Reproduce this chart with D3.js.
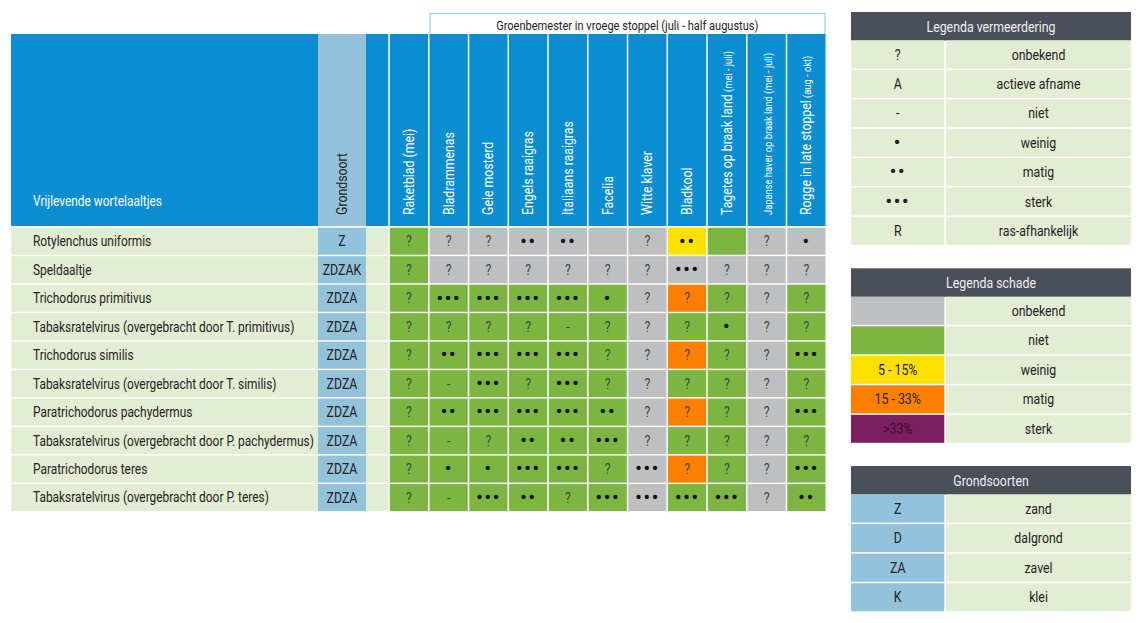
<!DOCTYPE html>
<html><head><meta charset="utf-8">
<script src="https://cdn.jsdelivr.net/npm/d3@7"></script>
<style>
body{margin:0;background:#fff;}
svg text{font-family:"Roboto","Liberation Sans",sans-serif;}
</style></head>
<body><svg id="c" width="1140" height="623"></svg>
<script>
// ---- data ----
const columns = ["Raketblad (mei)","Bladrammenas","Gele mosterd","Engels raaigras","Italiaans raaigras","Facelia","Witte klaver","Bladkool","Tagetes op braak land|(mei - juli)","|Japanse haver op braak land (mei - juli)","Rogge in late stoppel|(aug - okt)"];
const rows = ["Rotylenchus uniformis","Speldaaltje","Trichodorus primitivus","Tabaksratelvirus (overgebracht door T. primitivus)","Trichodorus similis","Tabaksratelvirus (overgebracht door T. similis)","Paratrichodorus pachydermus","Tabaksratelvirus (overgebracht door P. pachydermus)","Paratrichodorus teres","Tabaksratelvirus (overgebracht door P. teres)"];
const soils = ["Z","ZDZAK","ZDZA","ZDZA","ZDZA","ZDZA","ZDZA","ZDZA","ZDZA","ZDZA"];
// multiplication symbols per row
const symbols = [
 ["?","?","?","••","••","","?","••","","?","•"],
 ["?","?","?","?","?","?","?","•••","?","?","?"],
 ["?","•••","•••","•••","•••","•","?","?","?","?","?"],
 ["?","?","?","?","-","?","?","?","•","?","?"],
 ["?","••","•••","•••","•••","?","?","?","?","?","•••"],
 ["?","-","•••","?","•••","?","?","?","?","?","?"],
 ["?","••","•••","•••","•••","••","?","?","?","?","•••"],
 ["?","-","?","••","••","•••","?","?","?","?","?"],
 ["?","•","•","•••","•••","?","•••","?","?","?","•••"],
 ["?","-","•••","••","?","•••","•••","•••","•••","?","••"]
];
// damage class per row: u=onbekend, n=niet, w=weinig, m=matig, s=sterk
const damage = [
 ["n","u","u","u","u","u","u","w","n","u","u"],
 ["n","u","u","u","u","u","u","u","u","u","u"],
 ["n","n","n","n","n","n","u","m","n","u","n"],
 ["n","n","n","n","n","n","u","n","n","u","n"],
 ["n","n","n","n","n","n","u","m","n","u","n"],
 ["n","n","n","n","n","n","u","n","n","u","n"],
 ["n","n","n","n","n","n","u","m","n","u","n"],
 ["n","n","n","n","n","n","u","n","n","u","n"],
 ["n","n","n","n","n","n","u","m","n","u","n"],
 ["n","n","n","n","n","n","u","n","n","u","n"]
];
const legendMult = [["?","onbekend"],["A","actieve afname"],["-","niet"],["•","weinig"],["••","matig"],["•••","sterk"],["R","ras-afhankelijk"]];
const legendDamage = [["u","","onbekend"],["n","","niet"],["w","5 - 15%","weinig"],["m","15 - 33%","matig"],["s",">33%","sterk"]];
const legendSoil = [["Z","zand"],["D","dalgrond"],["ZA","zavel"],["K","klei"]];
const groupTitle = "Groenbemester in vroege stoppel (juli - half augustus)";

// ---- styles ----
const C = {blue:"#0a8dd1", lblue:"#93c3da", lgreen:"#e3edd3", dark:"#4a4f5a",
  u:"#bebfc1", n:"#7db543", w:"#ffe100", m:"#ff7f00", s:"#7b1f5e"};
const K = 0.85; // horizontal condensing of the text face
const svg = d3.select("#c");
const isDots = s => s.includes("•");
const dotAttrs = sel => sel.attr("font-size", d => isDots(d.txt) ? 21 : 14.5)
  .attr("letter-spacing", d => isDots(d.txt) ? "1.2px" : null)
  .attr("dy", d => isDots(d.txt) ? "0.3em" : "0.35em");

const x = d3.scaleBand().domain(d3.range(columns.length)).range([389.8, 825.5]).paddingInner(0.038);
const y = d3.scaleBand().domain(d3.range(rows.length)).range([227.7, 511.1]).paddingInner(0.05);

// group header
svg.append("rect").attr("x", x(1)+0.5).attr("y", 13.5).attr("width", 825 - x(1) - 0.5).attr("height", 22)
  .attr("fill","#fff").attr("stroke","#9fd0e6").attr("stroke-width",1.3);
svg.append("text").attr("transform",`translate(${(x(1)+825)/2},25) scale(${K},1)`).attr("dy","0.35em").attr("text-anchor","middle")
  .attr("font-size",13).attr("fill","#222").text(groupTitle);

// header row
const hTop = 34, hBot = 226;
svg.append("rect").attr("x",11).attr("y",hTop).attr("width",307).attr("height",hBot-hTop).attr("fill",C.blue);
svg.append("rect").attr("x",318).attr("y",hTop).attr("width",48).attr("height",hBot-hTop).attr("fill",C.lblue);
svg.append("rect").attr("x",366).attr("y",hTop).attr("width",22.3).attr("height",hBot-hTop).attr("fill",C.blue);
svg.append("text").attr("transform",`translate(33,206) scale(${K},1)`).attr("font-size",14).attr("fill","#fff").text("Vrijlevende wortelaaltjes");
svg.append("text").attr("transform",`translate(342,215) rotate(-90) scale(${K},1)`).attr("dy","0.35em")
  .attr("font-size",14.5).attr("fill","#222").text("Grondsoort");

const hc = svg.append("g").selectAll("g").data(columns).join("g");
hc.append("rect").attr("x",(d,i)=>x(i)).attr("y",hTop).attr("width",x.bandwidth()).attr("height",hBot-hTop).attr("fill",C.blue);
hc.append("text").attr("transform",(d,i)=>`translate(${x(i)+x.bandwidth()/2},215) rotate(-90) scale(${K},1)`).attr("dy","0.35em")
  .attr("fill","#fff").attr("font-size",14.5)
  .each(function(d){
    const [main, small] = d.split("|");
    const t = d3.select(this);
    if (main) t.append("tspan").text(main);
    if (small !== undefined) t.append("tspan").attr("font-size", 11).text((main ? " " : "") + small);
  });

// body rows
const rg = svg.append("g").selectAll("g").data(rows).join("g");
rg.append("rect").attr("x",11).attr("y",(d,i)=>y(i)).attr("width",307).attr("height",y.bandwidth()).attr("fill",C.lgreen);
rg.append("rect").attr("x",318).attr("y",(d,i)=>y(i)).attr("width",48).attr("height",y.bandwidth()).attr("fill",C.lblue);
rg.append("rect").attr("x",366).attr("y",(d,i)=>y(i)).attr("width",22.3).attr("height",y.bandwidth()).attr("fill",C.lgreen);
rg.append("text").attr("transform",(d,i)=>`translate(33,${y(i)+y.bandwidth()/2}) scale(${K},1)`).attr("dy","0.35em").attr("font-size",14).attr("fill","#222").text(d=>d);
rg.append("text").attr("transform",(d,i)=>`translate(342,${y(i)+y.bandwidth()/2}) scale(${K},1)`).attr("dy","0.35em").attr("text-anchor","middle").attr("font-size",14.5).attr("fill","#222").text((d,i)=>soils[i]);

const cells = [];
symbols.forEach((r,i)=>r.forEach((s,j)=>cells.push({i,j,txt:s,d:damage[i][j]})));
const cg = svg.append("g").selectAll("g").data(cells).join("g");
cg.append("rect").attr("x",d=>x(d.j)).attr("y",d=>y(d.i)).attr("width",x.bandwidth()).attr("height",y.bandwidth()).attr("fill",d=>C[d.d]);
cg.append("text").attr("transform",d=>`translate(${x(d.j)+x.bandwidth()/2},${y(d.i)+y.bandwidth()/2}) scale(${isDots(d.txt)?1:K},1)`)
  .attr("text-anchor","middle").call(dotAttrs)
  .attr("fill",d=>isDots(d.txt)?"#111":"#444").text(d=>d.txt);

// legends
function legend(top, title, data, leftFill, leftText, rightText){
  const g = svg.append("g");
  const ly = d3.scaleBand().domain(d3.range(data.length)).range([top+28.5, top+28.5+29.2*data.length]).paddingInner(0.05);
  g.append("rect").attr("x",851).attr("y",top).attr("width",280).attr("height",28.5).attr("fill",C.dark);
  g.append("text").attr("transform",`translate(991,${top+14.5}) scale(${K},1)`).attr("dy","0.35em").attr("text-anchor","middle").attr("font-size",14.5).attr("fill","#eee").text(title);
  const items = data.map(d => ({row:d, txt:leftText(d)}));
  const r = g.selectAll("g").data(items).join("g");
  r.append("rect").attr("x",851).attr("y",(d,i)=>ly(i)).attr("width",93.3).attr("height",ly.bandwidth()).attr("fill",d=>typeof leftFill==="function"?leftFill(d.row):leftFill);
  r.append("rect").attr("x",946).attr("y",(d,i)=>ly(i)).attr("width",185).attr("height",ly.bandwidth()).attr("fill",C.lgreen);
  r.append("text").attr("transform",(d,i)=>`translate(897.7,${ly(i)+ly.bandwidth()/2}) scale(${isDots(d.txt)?1:K},1)`).attr("text-anchor","middle")
    .call(dotAttrs).attr("fill",d=>d.row[0]==="s"?"#3a1030":"#222").text(d=>d.txt);
  r.append("text").attr("transform",(d,i)=>`translate(1038.5,${ly(i)+ly.bandwidth()/2}) scale(${K},1)`).attr("dy","0.35em").attr("text-anchor","middle")
    .attr("font-size",14.5).attr("fill","#222").text(d=>rightText(d.row));
}
legend(12, "Legenda vermeerdering", legendMult, C.lgreen, d=>d[0], d=>d[1]);
legend(268.3, "Legenda schade", legendDamage, d=>C[d[0]], d=>d[1], d=>d[2]);
legend(466, "Grondsoorten", legendSoil, C.lblue, d=>d[0], d=>d[1]);
</script></body></html>
